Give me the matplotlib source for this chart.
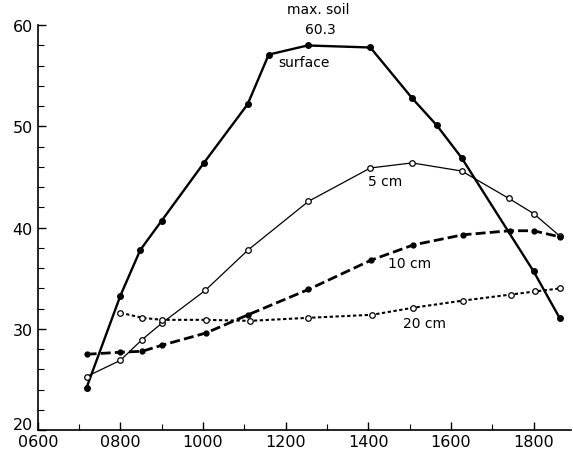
import matplotlib.pyplot as plt
import matplotlib.transforms as mtransforms
from matplotlib.ticker import MultipleLocator, FixedFormatter, FixedLocator

# time of day (hhmm) and temperature readings
surf_t = [718, 800, 848, 900, 1002, 1108, 1159, 1253, 1405, 1506, 1566, 1626, 1800, 1863]
surf_v = [24.2, 33.3, 37.8, 40.7, 46.4, 52.2, 57.1, 58.0, 57.8, 52.8, 50.1, 46.9, 35.7, 31.1]

cm5_t = [718, 800, 851, 901, 1005, 1109, 1255, 1405, 1506, 1626, 1740, 1800, 1863]
cm5_v = [25.3, 26.9, 28.9, 30.6, 33.8, 37.8, 42.6, 45.9, 46.4, 45.6, 42.9, 41.4, 39.2]

cm10_t = [718, 800, 853, 901, 1007, 1109, 1255, 1407, 1509, 1629, 1742, 1800, 1863]
cm10_v = [27.5, 27.7, 27.8, 28.4, 29.6, 31.4, 33.9, 36.8, 38.3, 39.3, 39.7, 39.7, 39.1]

cm20_t = [800, 853, 901, 1007, 1113, 1255, 1409, 1509, 1629, 1745, 1803, 1863]
cm20_v = [31.6, 31.1, 30.9, 30.9, 30.8, 31.1, 31.4, 32.1, 32.8, 33.4, 33.7, 34.0]

xticks = [600, 800, 1000, 1200, 1400, 1600, 1800]
xlabels = ['0600', '0800', '1000', '1200', '1400', '1600', '1800']
yticks = [20, 30, 40, 50, 60]

fig = plt.figure(figsize=(5.73, 4.52), dpi=100)
ax = fig.add_axes([0.066, 0.046, 0.93, 0.896])

ax.plot(surf_t, surf_v, 'k-', lw=1.7, marker='o', ms=4, mfc='k')
ax.plot(cm5_t, cm5_v, 'k-', lw=0.9, marker='o', ms=4, mfc='white', mew=0.9)
ax.plot(cm10_t, cm10_v, 'k', lw=2, dashes=(3.6, 1.5), marker='o', ms=3.5, mfc='k')
ax.plot(cm20_t, cm20_v, 'k', lw=1.5, dashes=(1.6, 1.2), marker='o', ms=4, mfc='white', mew=0.9)

ax.text(1280, 61.2, 'max. soil', ha='center', fontsize=10)
ax.text(1285, 59.2, '60.3', ha='center', fontsize=10)
ax.text(1245, 56.0, 'surface', ha='center', fontsize=10)
ax.text(1440, 44.2, '5 cm', ha='center', fontsize=10)
ax.text(1500, 36.1, '10 cm', ha='center', fontsize=10)
ax.text(1535, 30.2, '20 cm', ha='center', fontsize=10)

ax.set_xlim(600, 1890)
ax.set_ylim(20, 60)
ax.xaxis.set_major_locator(FixedLocator(xticks))
ax.xaxis.set_major_formatter(FixedFormatter(xlabels))
ax.xaxis.set_minor_locator(MultipleLocator(100))
ax.set_yticks(yticks)
ax.yaxis.set_minor_locator(MultipleLocator(2))
ax.tick_params(direction='in', labelsize=11.5, length=6, width=1)
ax.tick_params(axis='x', pad=2.5)
ax.tick_params(which='minor', direction='in', length=4, width=0.8)
ax.spines['top'].set_visible(False)
ax.spines['right'].set_visible(False)
ax.spines['left'].set_linewidth(1.2)
ax.spines['bottom'].set_linewidth(1.2)

# lift the bottom y label a little so it clears 0600, as in the original
lab = ax.get_yticklabels()[0]
lab.set_transform(lab.get_transform() + mtransforms.ScaledTranslation(0, 5 / 72, fig.dpi_scale_trans))

fig.savefig('out.png', dpi=100)
